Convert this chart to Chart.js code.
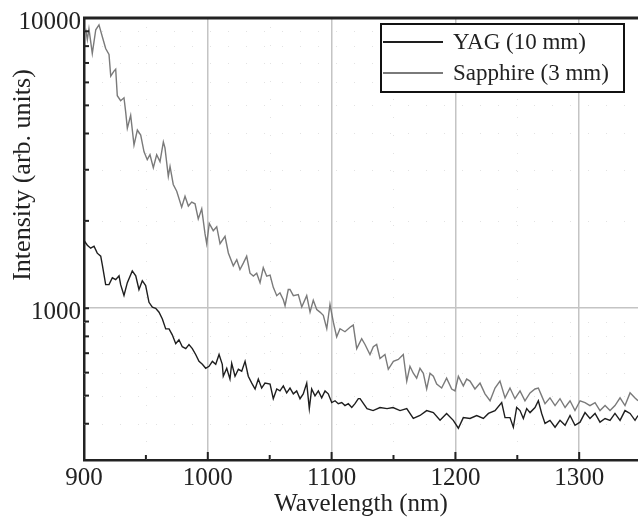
<!DOCTYPE html>
<html>
<head>
<meta charset="utf-8">
<script src="https://cdn.jsdelivr.net/npm/chart.js@4.4.1/dist/chart.umd.min.js"></script>
<style>
  html, body { margin: 0; padding: 0; background: #fff; }
  #wrap { width: 638px; height: 527px; position: relative; }
</style>
</head>
<body>
<div id="wrap"><canvas id="chart"></canvas></div>
<script>
// wavelength (nm) and intensity (arb. units)
const sapphireWl = [900.0, 901.4, 902.7, 904.0, 906.7, 909.5, 912.1, 914.8, 917.5, 920.2,
  921.6, 924.2, 925.6, 926.9, 929.6, 932.3, 933.7, 935.0, 937.7, 940.4,
  943.1, 945.8, 948.5, 951.1, 953.3, 956.0, 958.7, 961.4, 964.1, 965.4,
  968.1, 969.5, 972.1, 974.9, 978.9, 981.6, 984.3, 987.0, 989.7, 992.3,
  995.1, 997.7, 999.1, 1001.2, 1004.4, 1007.2, 1009.9, 1013.9, 1016.6, 1020.6,
  1023.4, 1026.0, 1028.7, 1031.4, 1034.1, 1036.8, 1039.5, 1042.2, 1044.8, 1047.6,
  1050.3, 1052.9, 1055.7, 1058.3, 1061.0, 1062.4, 1065.0, 1066.4, 1069.1, 1073.1,
  1075.9, 1079.9, 1082.6, 1085.2, 1088.0, 1090.6, 1093.3, 1096.1, 1098.7, 1101.4,
  1104.1, 1106.8, 1110.8, 1114.9, 1117.5, 1120.3, 1124.3, 1127.0, 1131.0, 1133.7,
  1136.4, 1139.1, 1143.1, 1145.8, 1149.9, 1153.9, 1157.9, 1160.7, 1163.3, 1166.0,
  1168.7, 1171.4, 1174.1, 1176.8, 1179.5, 1182.2, 1184.9, 1188.9, 1192.9, 1197.0,
  1199.7, 1202.4, 1206.4, 1209.1, 1211.8, 1215.8, 1219.9, 1223.9, 1228.0, 1232.0,
  1236.0, 1240.1, 1244.1, 1248.1, 1252.2, 1256.2, 1260.3, 1264.3, 1267.0, 1269.7,
  1272.4, 1276.4, 1280.5, 1284.5, 1288.6, 1292.6, 1296.6, 1300.7, 1304.7, 1308.7,
  1312.8, 1316.8, 1320.9, 1324.9, 1328.9, 1333.0, 1337.0, 1341.1, 1345.1, 1347.5];
const sapphire = [8970, 9110, 8420, 9180, 7550, 9110, 9470, 8620, 7850, 7490,
  6310, 6560, 6660, 5400, 5190, 5310, 4730, 4170, 4620, 3650,
  4110, 3950, 3460, 3250, 3380, 3050, 3380, 3200, 3740, 3570,
  2845, 3080, 2670, 2530, 2230, 2430, 2250, 2320, 2290, 2030,
  2200, 1810, 1670, 1960, 1850, 1910, 1670, 1770, 1550, 1400,
  1470, 1360, 1430, 1510, 1320, 1290, 1320, 1225, 1380, 1290,
  1300, 1180, 1105, 1130, 1070, 1020, 1160, 1160, 1105, 1115,
  1010, 1105, 970, 1065, 990, 970, 945, 850, 1030, 895,
  797, 850, 830, 860, 875, 726, 785, 750, 693, 737,
  750, 671, 693, 616, 656, 666, 693, 561, 631, 597,
  574, 621, 597, 527, 597, 583, 548, 531, 574, 527,
  519, 583, 540, 570, 561, 527, 552, 507, 480, 531,
  561, 491, 531, 488, 519, 480, 511, 527, 531, 499,
  469, 491, 462, 488, 455, 480, 444, 480, 473, 462,
  473, 444, 462, 444, 462, 491, 462, 511, 491, 480];

const yagWl = [900.0, 902.7, 905.4, 908.1, 910.7, 913.5, 914.8, 917.5, 920.2, 922.9,
  925.6, 928.3, 929.6, 932.3, 935.0, 939.0, 941.8, 944.4, 947.1, 949.8,
  952.5, 955.2, 957.9, 960.6, 963.3, 966.0, 968.7, 971.3, 974.1, 976.7,
  979.4, 982.2, 984.8, 987.5, 990.2, 992.9, 995.6, 998.3, 1001.0, 1003.7,
  1006.4, 1009.1, 1011.7, 1012.5, 1015.3, 1017.9, 1019.3, 1022.0, 1024.7, 1027.4,
  1030.1, 1032.7, 1035.5, 1038.2, 1040.8, 1043.5, 1046.2, 1050.3, 1052.9, 1055.7,
  1058.3, 1061.0, 1063.7, 1066.4, 1069.1, 1071.8, 1074.5, 1077.1, 1079.9, 1082.0,
  1083.9, 1086.6, 1089.3, 1092.0, 1094.7, 1097.3, 1100.1, 1102.8, 1105.4, 1108.2,
  1110.8, 1113.5, 1116.3, 1118.9, 1121.6, 1123.0, 1128.6, 1133.5, 1139.1, 1144.8,
  1149.6, 1155.3, 1160.7, 1166.0, 1171.4, 1176.8, 1182.2, 1187.6, 1192.9, 1198.3,
  1202.4, 1206.4, 1211.8, 1217.2, 1222.6, 1226.7, 1232.0, 1237.4, 1240.1, 1244.1,
  1246.8, 1249.5, 1252.2, 1254.9, 1257.6, 1260.3, 1264.3, 1267.0, 1269.7, 1272.4,
  1276.4, 1280.5, 1284.5, 1288.6, 1292.6, 1296.6, 1300.7, 1304.7, 1308.7, 1312.8,
  1316.8, 1320.9, 1324.9, 1328.9, 1333.0, 1337.0, 1341.1, 1345.1, 1347.5];
const yag = [1713, 1648, 1610, 1635, 1548, 1512, 1410, 1206, 1206, 1273,
  1254, 1293, 1206, 1107, 1225, 1345, 1293, 1160, 1244, 1197,
  1048, 1008, 1000, 969, 918, 849, 849, 810, 755, 779,
  737, 726, 749, 726, 693, 656, 641, 621, 631, 656,
  641, 693, 641, 583, 621, 570, 646, 583, 616, 607,
  656, 583, 552, 527, 570, 531, 552, 548, 488, 527,
  519, 540, 511, 531, 507, 519, 488, 507, 552, 451,
  527, 499, 519, 491, 519, 507, 473, 480, 469, 473,
  462, 469, 455, 469, 488, 488, 451, 444, 455, 451,
  455, 444, 451, 417, 427, 444, 437, 411, 434, 411,
  386, 420, 417, 427, 417, 434, 444, 473, 420, 420,
  389, 455, 444, 417, 451, 437, 455, 480, 434, 401,
  411, 389, 411, 395, 427, 395, 405, 437, 417, 434,
  405, 417, 411, 434, 411, 444, 434, 411, 427];

const xTicks = [900, 950, 1000, 1050, 1100, 1150, 1200, 1250, 1300];
const xLabels = [900, 1000, 1100, 1200, 1300];
const yTicks = [300, 400, 500, 600, 700, 800, 900, 1000, 2000, 3000, 4000, 5000, 6000, 7000, 8000, 9000, 10000];
const yLabels = [1000, 10000];
const yMajor = [1000];

const serif = "'Liberation Serif', 'DejaVu Serif', serif";

function toPoints(xs, ys) {
    return xs.map(function (x, i) { return { x: x, y: ys[i] }; });
}

// inward ticks, dotted minor grid, top frame, legend box, y title
const framePlugin = {
    id: 'frame',
    beforeDatasetsDraw(chart) {
        const ctx = chart.ctx;
        const a = chart.chartArea;
        const xs = chart.scales.x, ys = chart.scales.y;
        ctx.save();
        // faint dotted minor grid
        ctx.strokeStyle = '#e2e2e2';
        ctx.lineWidth = 1;
        ctx.setLineDash([1, 17]);
        xTicks.forEach(function (v) {
            if (v % 100 === 0) return;
            const px = Math.round(xs.getPixelForValue(v)) + 0.5;
            ctx.beginPath(); ctx.moveTo(px, a.bottom); ctx.lineTo(px, a.top); ctx.stroke();
        });
        yTicks.forEach(function (v) {
            if (yMajor.includes(v) || v === 10000 || v === 300) return;
            const py = Math.round(ys.getPixelForValue(v)) + 0.5;
            ctx.beginPath(); ctx.moveTo(a.left, py); ctx.lineTo(a.right, py); ctx.stroke();
        });
        ctx.restore();
    },
    afterDatasetsDraw(chart) {
        const ctx = chart.ctx;
        const a = chart.chartArea;
        const xs = chart.scales.x, ys = chart.scales.y;
        ctx.save();
        ctx.strokeStyle = '#222';
        ctx.lineWidth = 2;
        // x ticks pointing up
        xTicks.forEach(function (v) {
            const px = xs.getPixelForValue(v);
            const len = v % 100 === 0 ? 8 : 5;
            ctx.beginPath(); ctx.moveTo(px, a.bottom); ctx.lineTo(px, a.bottom - len); ctx.stroke();
        });
        // y ticks pointing right
        yTicks.forEach(function (v) {
            const py = ys.getPixelForValue(v);
            ctx.beginPath(); ctx.moveTo(a.left, py); ctx.lineTo(a.left + 5, py); ctx.stroke();
        });
        // top frame line
        ctx.lineWidth = 3;
        ctx.beginPath(); ctx.moveTo(a.left - 1, a.top); ctx.lineTo(a.right, a.top); ctx.stroke();

        // legend
        ctx.fillStyle = '#fff';
        ctx.fillRect(381, 24, 243, 68);
        ctx.lineWidth = 2;
        ctx.strokeStyle = '#111';
        ctx.strokeRect(381, 24, 243, 68);
        const rows = [42, 73];
        ctx.font = '23px ' + serif;
        ctx.textBaseline = 'middle';
        ctx.textAlign = 'left';
        chart.data.datasets.forEach(function (ds, i) {
            ctx.strokeStyle = ds.borderColor;
            ctx.lineWidth = 2;
            ctx.beginPath(); ctx.moveTo(383, rows[i]); ctx.lineTo(443, rows[i]); ctx.stroke();
            ctx.fillStyle = '#222';
            ctx.fillText(ds.label, 453, rows[i] + 1);
        });

        // y axis title
        ctx.translate(23, 175);
        ctx.rotate(-Math.PI / 2);
        ctx.textAlign = 'center';
        ctx.font = '26px ' + serif;
        ctx.fillStyle = '#222';
        ctx.fillText('Intensity (arb. units)', 0, 0);
        ctx.restore();
    }
};

const ctx = document.getElementById('chart').getContext('2d');
const chart = new Chart(ctx, {
    type: 'line',
    data: {
        datasets: [
            {
                label: 'YAG (10 mm)',
                data: toPoints(yagWl, yag),
                borderColor: '#1e1e1e',
                borderWidth: 1.4,
                pointRadius: 0,
                tension: 0,
                fill: false
            },
            {
                label: 'Sapphire (3 mm)',
                data: toPoints(sapphireWl, sapphire),
                borderColor: '#7a7a7a',
                borderWidth: 1.4,
                pointRadius: 0,
                tension: 0,
                fill: false
            }
        ]
    },
    options: {
        responsive: true,
        maintainAspectRatio: false,
        animation: false,
        layout: { padding: { top: 11, left: 0, right: 0, bottom: 0 } },
        plugins: {
            legend: { display: false },
            tooltip: { enabled: false }
        },
        scales: {
            x: {
                type: 'linear',
                min: 900,
                max: 1347.5,
                afterFit: function (scale) { scale.height = 67; },
                afterBuildTicks: function (scale) {
                    scale.ticks = xTicks.map(function (v) { return { value: v }; });
                },
                ticks: {
                    autoSkip: false,
                    maxRotation: 0,
                    padding: 3,
                    color: '#222',
                    font: { family: serif, size: 25 },
                    callback: function (value) {
                        return xLabels.includes(value) ? String(value) : '';
                    }
                },
                grid: {
                    drawTicks: false,
                    lineWidth: 1.5,
                    color: function (c) {
                        const v = c.tick && c.tick.value;
                        return (v % 100 === 0 && v !== 900) ? '#c4c4c4' : 'rgba(0,0,0,0)';
                    }
                },
                border: { display: true, color: '#222', width: 2.5 },
                title: {
                    display: true,
                    text: 'Wavelength (nm)',
                    color: '#222',
                    font: { family: serif, size: 25 },
                    padding: { top: 0, bottom: 8 }
                }
            },
            y: {
                type: 'logarithmic',
                min: 300,
                max: 10000,
                afterFit: function (scale) { scale.width = 84; },
                afterBuildTicks: function (scale) {
                    scale.ticks = yTicks.map(function (v) { return { value: v }; });
                },
                ticks: {
                    autoSkip: false,
                    padding: 3,
                    labelOffset: 4,
                    color: '#222',
                    font: { family: serif, size: 25 },
                    callback: function (value) {
                        return yLabels.includes(value) ? String(value) : '';
                    }
                },
                grid: {
                    drawTicks: false,
                    lineWidth: 1.5,
                    color: function (c) {
                        const v = c.tick && c.tick.value;
                        return yMajor.includes(v) ? '#c4c4c4' : 'rgba(0,0,0,0)';
                    }
                },
                border: { display: true, color: '#222', width: 2.5 },
                title: { display: false }
            }
        }
    },
    plugins: [framePlugin]
});
</script>
</body>
</html>
